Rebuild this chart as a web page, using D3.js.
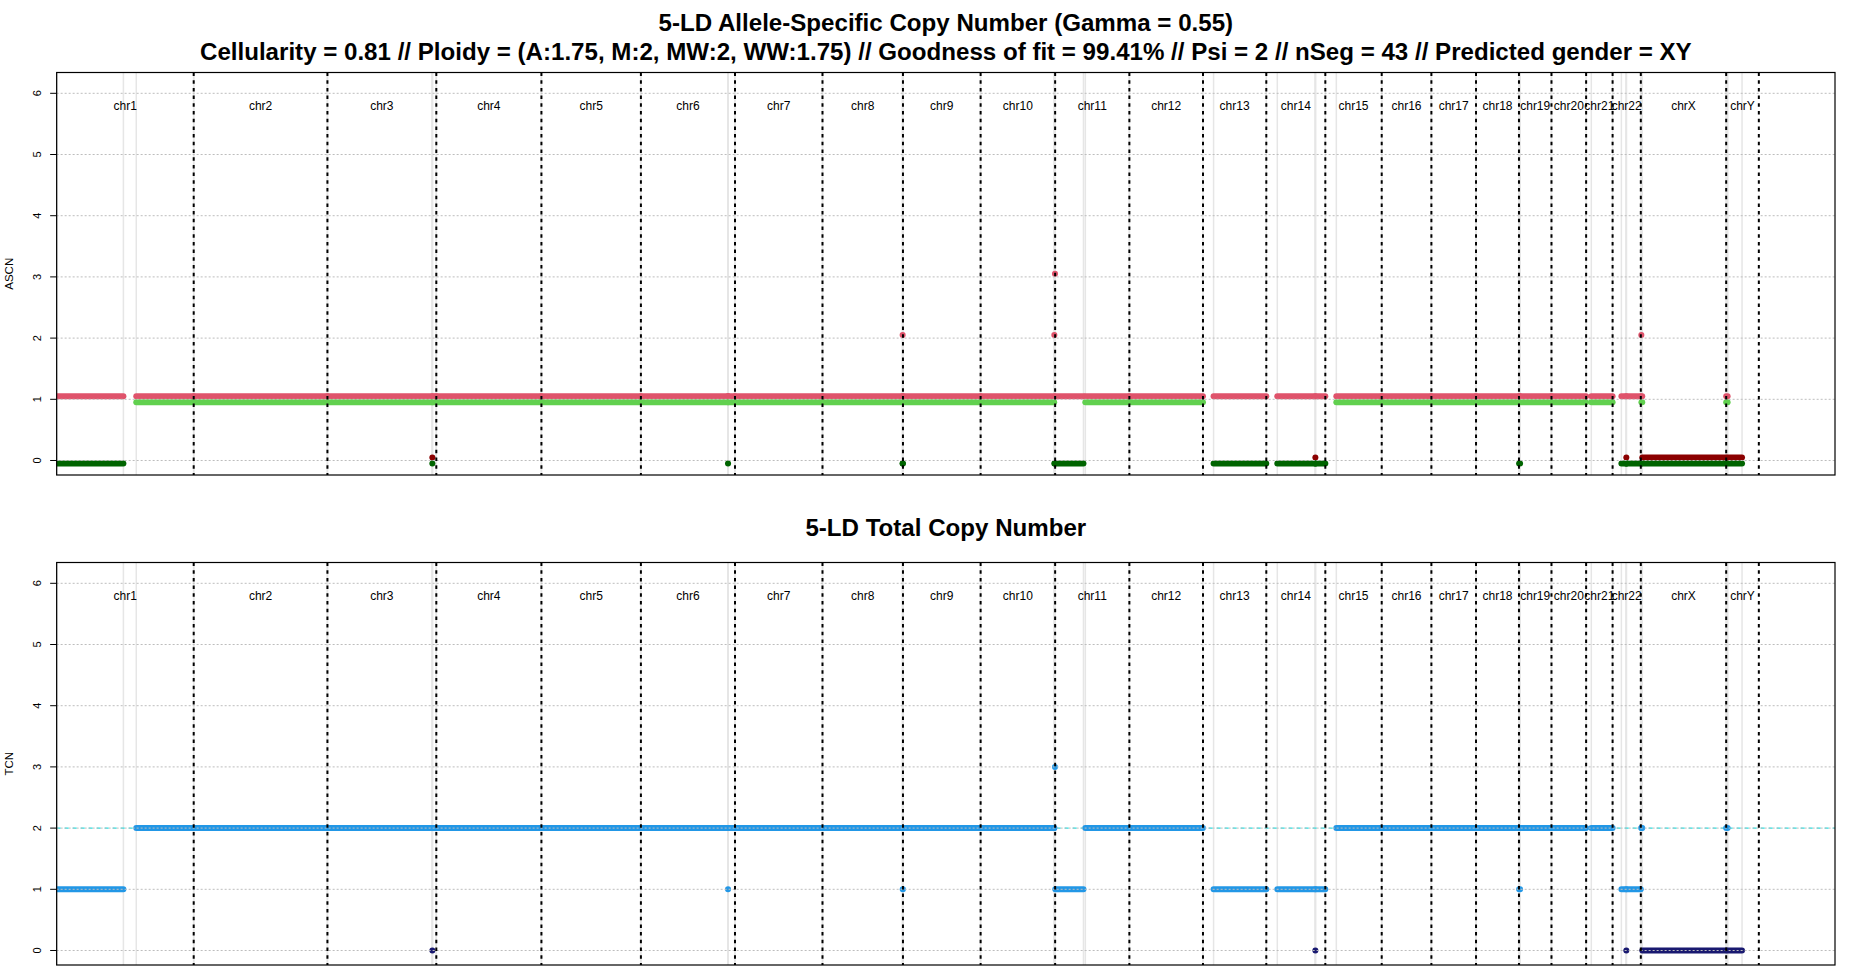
<!DOCTYPE html>
<html><head><meta charset="utf-8">
<script src="https://cdn.jsdelivr.net/npm/d3@7"></script>
<style>
body{margin:0;background:#fff;}
svg{display:block;}
text{font-family:"Liberation Sans",Arial,Helvetica,sans-serif;}
</style>
</head><body>
<svg id="chart" width="1850" height="980"></svg>
<script>
// ---------------- DATA ----------------
const chromosomes = ["chr1","chr2","chr3","chr4","chr5","chr6","chr7","chr8","chr9","chr10","chr11","chr12",
  "chr13","chr14","chr15","chr16","chr17","chr18","chr19","chr20","chr21","chr22","chrX","chrY"];
const chromLengthsMb = [249.25,243.199,198.022,191.154,180.915,171.115,159.139,146.364,141.213,135.535,135.007,133.852,
  115.17,107.349,102.531,90.355,81.195,78.077,59.129,63.026,48.13,51.305,155.271,59.374];
const xAxisMaxMb = 3234.2;

const segChrom = ["chr1","chr1","chr2","chr3","chr3","chr3","chr4","chr5","chr6","chr6","chr6","chr7",
  "chr8","chr8","chr8","chr9","chr10","chr10","chr10","chr11","chr11","chr12","chr13","chr14","chr14","chr14",
  "chr15","chr16","chr17","chr18","chr19","chr19","chr20","chr21","chr22","chr22","chr22","chrX","chrX","chrX","chrY","chrY"];
const segStartMb = [0.8,144.8, 0.01, 0.06,190.8,191.1, 0.05, 0.1, 0.2,158.4,158.7, 0.05,
  0.2,145.7,145.9, 0.2, 0.1,134.0,135.2, 0.2,54.9, 0.1, 19.3, 20.0,89.2,89.4,
  20.0, 0.1, 0.1, 0.1, 0.26,2.2, 0.06, 9.4, 16.0,24.9,25.1, 0.9,1.1,2.7, 0.01,2.7];
const segEndMb = [121.4,249.2, 243.1, 190.6,190.9,197.9, 191.0, 180.8, 158.3,158.5,170.9, 159.1,
  145.6,145.8,146.3, 141.1, 133.8,134.1,135.3, 51.5,134.9, 133.8, 115.1, 89.1,89.3,107.3,
  102.5, 90.2, 81.1, 78.0, 2.0,59.0, 62.9, 48.1, 24.8,25.0,51.2, 1.0,2.6,155.2, 2.6,28.8];
const segMajor = [1,1, 1, 1,0,1, 1, 1, 1,1,1, 1, 1,2,1, 1, 1,2,3, 1,1, 1, 1, 1,0,1, 1, 1, 1, 1, 1,1, 1, 1, 1,0,1, 2,1,0, 1,0];
const segMinor = [0,1, 1, 1,0,1, 1, 1, 1,0,1, 1, 1,0,0, 1, 1,0,0, 0,1, 1, 0, 0,0,0, 1, 1, 1, 1, 0,1, 1, 1, 0,0,0, 0,1,0, 1,0];
const segTotal = [1,2, 2, 2,0,2, 2, 2, 2,1,2, 2, 2,2,1, 2, 2,2,3, 1,2, 2, 1, 1,0,1, 2, 2, 2, 2, 1,2, 2, 2, 1,0,1, 2,2,0, 2,0];

const yTicks = [0,1,2,3,4,5,6];
const ploidyLine = 2;
const title1 = "5-LD Allele-Specific Copy Number (Gamma = 0.55)";
const title2 = "Cellularity = 0.81 // Ploidy = (A:1.75, M:2, MW:2, WW:1.75) // Goodness of fit = 99.41% // Psi = 2 // nSeg = 43 // Predicted gender = XY";
const title3 = "5-LD Total Copy Number";

// ---------------- LAYOUT ----------------
const svg = d3.select("#chart");
const X0 = 56.65, X1 = 1835;
const panels = [
  {top:72.5, bottom:475, ylab:"ASCN"},
  {top:562.5, bottom:965, ylab:"TCN"}
];
const yDomain = [-0.237, 6.34];
const COL = {red:"#DF536B", darkred:"#8B0000", green:"#61D04F", darkgreen:"#006400",
             blue:"#2297E6", navy:"#191970", cyan:"#28E2E5"};

const x = d3.scaleLinear().domain([0, xAxisMaxMb]).range([X0, X1]);

const offsets = {};
let cum = 0;
const chromInfo = chromosomes.map((c,i)=>{ const s=cum; cum += chromLengthsMb[i]; offsets[c]=s; return {name:c,start:s,end:cum}; });

const segs = segChrom.map((c,i)=>({
  s: offsets[c]+segStartMb[i], e: offsets[c]+segEndMb[i],
  major: segMajor[i], minor: segMinor[i], total: segTotal[i]
}));

function drawSegMarks(g, y, data, val, colFn){
  data.forEach(d=>{
    const xa = x(d.s), xb = x(d.e);
    g.append("line").attr("x1",xa).attr("x2",xb).attr("y1",y(val(d))).attr("y2",y(val(d)))
      .attr("stroke",colFn(d)).attr("stroke-width",6).attr("stroke-linecap","round");
  });
}

panels.forEach((p,pi)=>{
  const y = d3.scaleLinear().domain(yDomain).range([p.bottom, p.top]);
  const clipId = "clip"+pi;
  svg.append("clipPath").attr("id",clipId).append("rect")
    .attr("x",X0).attr("y",p.top).attr("width",X1-X0).attr("height",p.bottom-p.top);
  const g = svg.append("g").attr("clip-path",`url(#${clipId})`);

  // segment boundary lines (light grey)
  const bounds = [];
  segs.forEach(d=>{ bounds.push(d.s, d.e); });
  g.selectAll("line.sb").data(bounds).enter().append("line").attr("class","sb")
    .attr("x1",d=>x(d)).attr("x2",d=>x(d)).attr("y1",p.top).attr("y2",p.bottom)
    .attr("stroke","#E6E6E6").attr("stroke-width",1.5);

  if(pi===1){
    g.append("line").attr("x1",X0).attr("x2",X1).attr("y1",y(ploidyLine)).attr("y2",y(ploidyLine))
      .attr("stroke",COL.cyan).attr("stroke-width",1.2).attr("stroke-dasharray","4,4");
  }

  if(pi===0){
    drawSegMarks(g, y, segs, d=>d.major+0.05, d=>d.major===0?COL.darkred:COL.red);
    drawSegMarks(g, y, segs, d=>d.minor-0.05, d=>d.minor===0?COL.darkgreen:COL.green);
  } else {
    drawSegMarks(g, y, segs, d=>d.total, d=>d.total===0?COL.navy:COL.blue);
  }

  // horizontal grid
  g.selectAll("line.grid").data(yTicks).enter().append("line").attr("class","grid")
    .attr("x1",X0).attr("x2",X1).attr("y1",d=>y(d)).attr("y2",d=>y(d))
    .attr("stroke","#BDBDBD").attr("stroke-width",1).attr("stroke-dasharray","2,2");

  // chromosome boundaries
  g.selectAll("line.cb").data(chromInfo).enter().append("line").attr("class","cb")
    .attr("x1",d=>x(d.end)).attr("x2",d=>x(d.end)).attr("y1",p.top).attr("y2",p.bottom)
    .attr("stroke","#000").attr("stroke-width",2).attr("stroke-dasharray","3.5,4.2");

  // chromosome labels
  svg.selectAll(null).data(chromInfo).enter().append("text")
    .attr("x",d=>x((d.start+d.end)/2)).attr("y",y(5.8))
    .attr("text-anchor","middle").attr("dominant-baseline","central")
    .attr("font-size",12).attr("fill","#000").text(d=>d.name);

  // frame
  svg.append("rect").attr("x",X0).attr("y",p.top).attr("width",X1-X0).attr("height",p.bottom-p.top)
    .attr("fill","none").attr("stroke","#000").attr("stroke-width",1.2);

  // y axis
  const ax = svg.append("g");
  ax.selectAll("line").data(yTicks).enter().append("line")
    .attr("x1",X0-6.5).attr("x2",X0).attr("y1",d=>y(d)).attr("y2",d=>y(d))
    .attr("stroke","#000").attr("stroke-width",1);
  ax.selectAll("text").data(yTicks).enter().append("text")
    .attr("transform",d=>`translate(36.5,${y(d)}) rotate(-90)`)
    .attr("text-anchor","middle").attr("dominant-baseline","central")
    .attr("font-size",11).text(d=>d);
  svg.append("text").attr("transform",`translate(8.5,${(p.top+p.bottom)/2}) rotate(-90)`)
    .attr("text-anchor","middle").attr("dominant-baseline","central")
    .attr("font-size",11.5).text(p.ylab);
});

// titles
const cx = (X0+X1)/2;
const t2 = svg.append("text").attr("x",cx).attr("y",60).attr("text-anchor","middle")
  .attr("font-weight","bold").attr("font-size",22).text(title2);
const len = t2.node().getComputedTextLength();
const fs = 22*1492/len;
t2.attr("font-size",fs);
svg.append("text").attr("x",cx).attr("y",30.5).attr("text-anchor","middle")
  .attr("font-weight","bold").attr("font-size",fs).text(title1);
svg.append("text").attr("x",cx).attr("y",535.5).attr("text-anchor","middle")
  .attr("font-weight","bold").attr("font-size",fs).text(title3);
</script>
</body></html>
